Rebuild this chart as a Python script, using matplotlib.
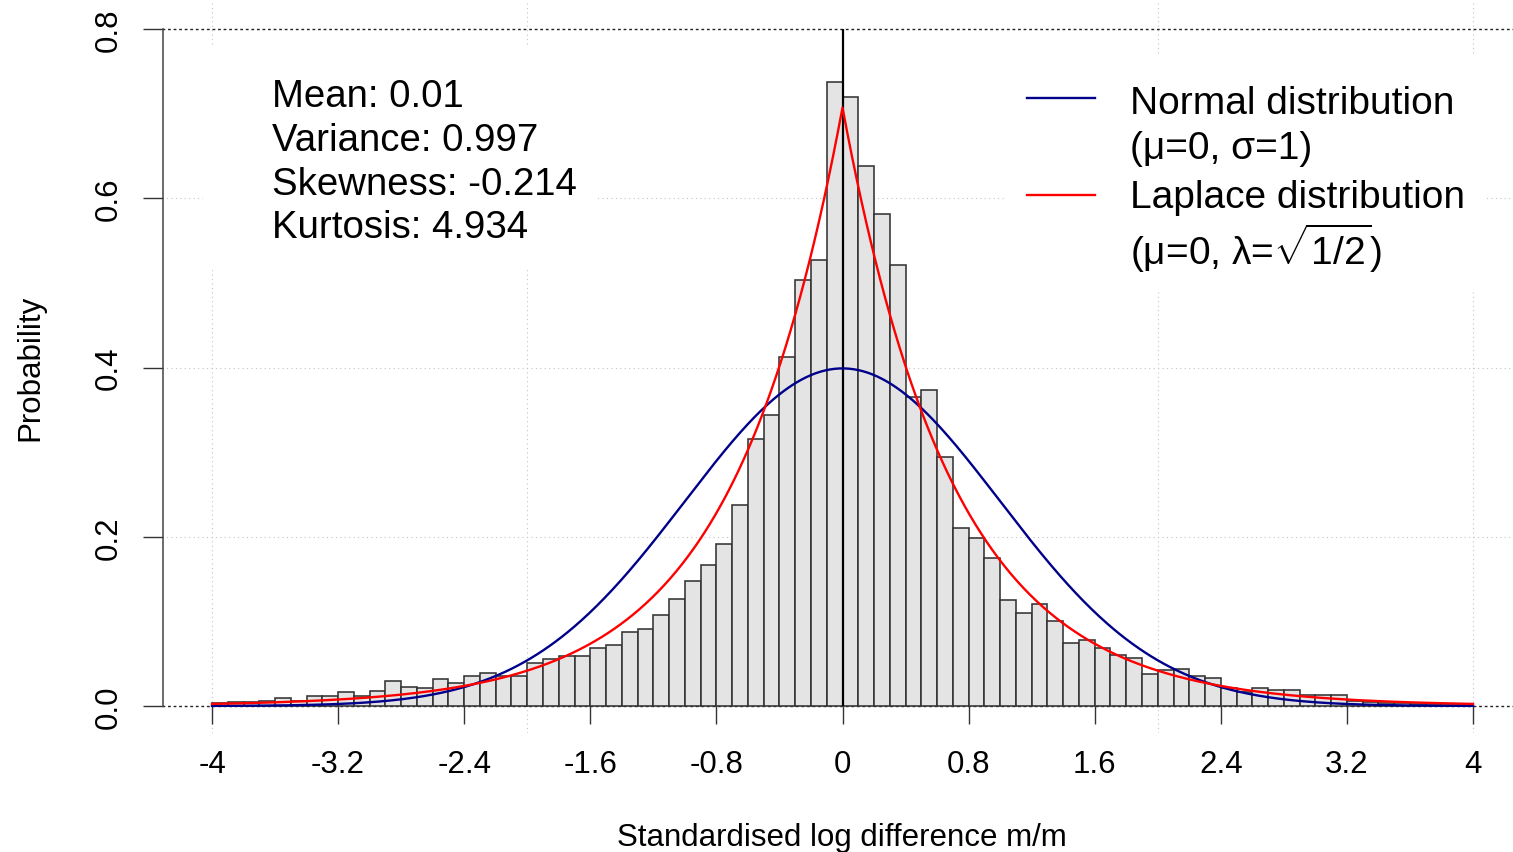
import numpy as np
import matplotlib
matplotlib.use("Agg")
import matplotlib.pyplot as plt
from matplotlib.lines import Line2D
from matplotlib.patches import Rectangle

plt.rcParams['font.family'] = ['Liberation Sans', 'DejaVu Sans']
plt.rcParams['mathtext.fontset'] = 'custom'
plt.rcParams['mathtext.rm'] = 'Liberation Sans'
plt.rcParams['mathtext.it'] = 'Liberation Sans:italic'
plt.rcParams['mathtext.bf'] = 'Liberation Sans:bold'

# ---- data ----
bin_start = -4.0
bin_width = 0.1
bin_heights = [
    0.003, 0.005, 0.005, 0.006, 0.0095, 0.006, 0.012, 0.012, 0.016, 0.012,   # -4.0 .. -3.1
    0.018, 0.029, 0.0225, 0.021, 0.0315, 0.027, 0.035, 0.039, 0.036, 0.035,  # -3.0 .. -2.1
    0.051, 0.0555, 0.059, 0.059, 0.068, 0.072, 0.087, 0.091, 0.107, 0.126,   # -2.0 .. -1.1
    0.148, 0.167, 0.192, 0.237, 0.315, 0.344, 0.412, 0.503, 0.527, 0.737,    # -1.0 .. -0.1
    0.720, 0.638, 0.581, 0.5215, 0.365, 0.373, 0.294, 0.210, 0.199, 0.175,   #  0.0 ..  0.9
    0.125, 0.1095, 0.121, 0.101, 0.075, 0.078, 0.068, 0.060, 0.057, 0.038,   #  1.0 ..  1.9
    0.042, 0.044, 0.035, 0.033, 0.021, 0.016, 0.021, 0.019, 0.019, 0.013,    #  2.0 ..  2.9
    0.013, 0.013, 0.006, 0.005, 0.004, 0.003, 0.002, 0.002, 0.001, 0.001,    #  3.0 ..  3.9
]
x_ticks = [-4, -3.2, -2.4, -1.6, -0.8, 0, 0.8, 1.6, 2.4, 3.2, 4]
x_tick_labels = ["-4", "-3.2", "-2.4", "-1.6", "-0.8", "0", "0.8", "1.6", "2.4", "3.2", "4"]
y_ticks = [0.0, 0.2, 0.4, 0.6, 0.8]
y_tick_labels = ["0.0", "0.2", "0.4", "0.6", "0.8"]
grid_x = [-4, -2, 2, 4]
grid_y = [0.2, 0.4, 0.6]
stats_labels = ["Mean: 0.01", "Variance: 0.997", "Skewness: -0.214", "Kurtosis: 4.934"]
normal_mu, normal_sigma = 0.0, 1.0
laplace_mu, laplace_lambda = 0.0, np.sqrt(1 / 2)
legend_labels = ["Normal distribution", "(\u03bc=0, \u03c3=1)",
                 "Laplace distribution", "(\u03bc=0, \u03bb=$\\sqrt{1/2}$)"]
normal_color = "#00008B"
laplace_color = "#FF0000"

# ---- figure ----
W, H = 1513, 853
fig = plt.figure(figsize=(W / 100, H / 100), dpi=100)


def fx(px):
    return px / W


def fy(py):
    return 1 - py / H


xpu = (1473 - 212) / 8.0      # pixels per x unit
ypu = (707 - 30) / 0.8        # pixels per y unit
xlim = (-4.32, 4.32)
ylim = (-0.032, 0.832)
left_px = 842.5 + xlim[0] * xpu
bottom_px = (H - 707) + ylim[0] * ypu
ax = fig.add_axes([left_px / W, bottom_px / H,
                   (xlim[1] - xlim[0]) * xpu / W, (ylim[1] - ylim[0]) * ypu / H])
ax.set_xlim(*xlim)
ax.set_ylim(*ylim)

# grid
for gx in grid_x:
    ax.axvline(gx, color="#C4C4C4", lw=0.8, ls=(0, (1, 3)), zorder=0.5)
for gy in grid_y:
    ax.axhline(gy, color="#C4C4C4", lw=0.8, ls=(0, (1, 3)), zorder=0.5)
ax.axhline(0.0, color="#222222", lw=1.0, ls=(0, (2, 2)), zorder=0.6)
ax.axhline(0.8, color="#222222", lw=1.0, ls=(0, (2, 2)), zorder=0.6)

# white boxes behind the annotation and legend
ax.add_patch(Rectangle((fx(203), fy(271)), fx(595) - fx(203), fy(48) - fy(271),
                       transform=fig.transFigure, facecolor="white", edgecolor="none", zorder=1))
ax.add_patch(Rectangle((fx(1005), fy(290)), fx(1485) - fx(1005), fy(58) - fy(290),
                       transform=fig.transFigure, facecolor="white", edgecolor="none", zorder=1))

# histogram
edges = bin_start + bin_width * np.arange(len(bin_heights))
ax.bar(edges, bin_heights, width=bin_width, align="edge", color="#E4E4E4",
       edgecolor="#333333", linewidth=1.15, zorder=2)

# zero reference line
ax.vlines(0, 0, 0.8, color="black", lw=1.6, zorder=2.5)

# theoretical densities
xs = np.linspace(-4, 4, 801)
normal_pdf = np.exp(-0.5 * ((xs - normal_mu) / normal_sigma) ** 2) / (normal_sigma * np.sqrt(2 * np.pi))
laplace_pdf = np.exp(-np.abs(xs - laplace_mu) / laplace_lambda) / (2 * laplace_lambda)
ax.plot(xs, normal_pdf, color=normal_color, lw=1.7, zorder=3)
ax.plot(xs, laplace_pdf, color=laplace_color, lw=1.7, zorder=3)

# axes
for s in ["top", "right", "bottom"]:
    ax.spines[s].set_visible(False)
ax.spines["bottom"].set_position(("data", 0))
ax.spines["left"].set_position(("data", -4 - 49 / xpu))
ax.spines["left"].set_bounds(0, 0.8)
ax.spines["left"].set_color("#444444")
ax.spines["left"].set_linewidth(1.1)

ax.set_xticks(x_ticks, labels=x_tick_labels)
ax.set_yticks(y_ticks, labels=y_tick_labels)
ax.tick_params(axis="x", direction="out", length=13, width=1.0, color="#333333",
               labelsize=22.5, pad=18)
ax.tick_params(axis="y", direction="out", length=14.5, width=1.0, color="#333333",
               labelsize=22.5, pad=14, labelrotation=90)
for lab in ax.get_yticklabels():
    lab.set_va("center")

fig.text(fx(842), fy(838), "Standardised log difference m/m", ha="center", va="center", fontsize=22.5)
fig.text(fx(30), fy(368), "Probability", ha="center", va="center", rotation=90, fontsize=22.5)

# summary statistics
for label, base in zip(stats_labels, [107, 151, 195, 238]):
    fig.text(fx(272), fy(base), label, ha="left", va="baseline", fontsize=27.6, zorder=5)

# legend
fig.add_artist(Line2D([fx(1027), fx(1095)], [fy(99), fy(99)], color=normal_color, lw=1.7))
fig.add_artist(Line2D([fx(1027), fx(1095)], [fy(196), fy(196)], color=laplace_color, lw=1.7))
for label, base in zip(legend_labels, [114, 159, 208, 265]):
    fig.text(fx(1130), fy(base), label, ha="left", va="baseline", fontsize=28, zorder=5)

fig.savefig("out.png", dpi=100)
